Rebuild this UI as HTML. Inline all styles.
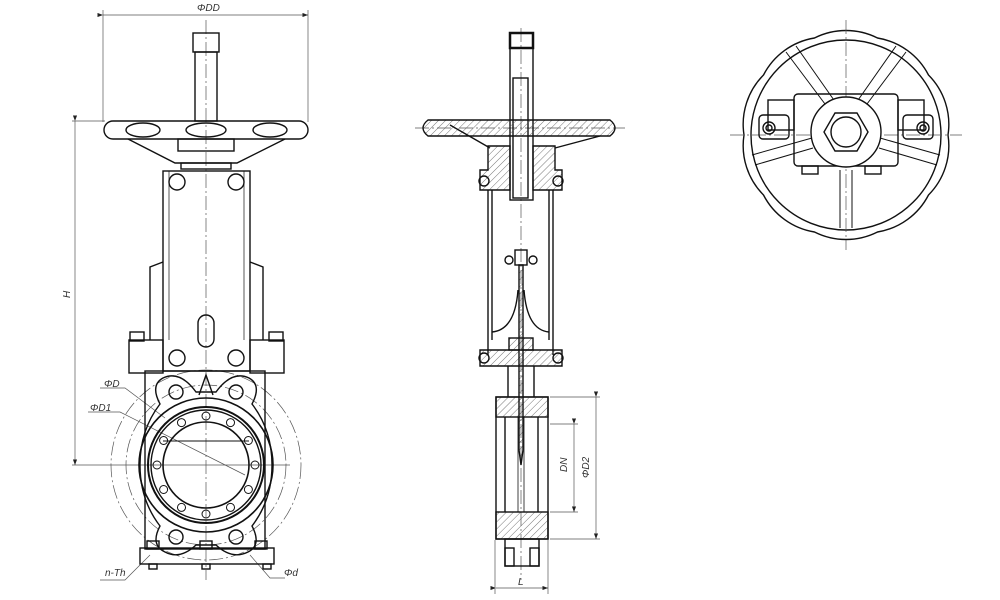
<!DOCTYPE html>
<html><head><meta charset="utf-8"><style>
html,body{margin:0;padding:0;background:#fff;width:1000px;height:600px;overflow:hidden}
svg{display:block}
text{font-family:"Liberation Sans",sans-serif;font-style:italic;font-size:10px;fill:#333}
</style></head><body>
<svg width="1000" height="600" viewBox="0 0 1000 600" xmlns="http://www.w3.org/2000/svg">
<defs>
<pattern id="h" width="5" height="5" patternUnits="userSpaceOnUse" patternTransform="rotate(45)"><line x1="0" y1="0" x2="0" y2="5" stroke="#555" stroke-width="0.8"/></pattern>
<marker id="a" markerWidth="8" markerHeight="6" refX="8" refY="3" orient="auto"><path d="M0,0 L8,3 L0,6z" fill="#222"/></marker>
</defs>
<g fill="none" stroke="#111" stroke-width="1.4">
<!-- ===== LEFT VIEW ===== -->
<g stroke="#555" stroke-width="0.7">
<line x1="103" y1="15" x2="308" y2="15" marker-start="url(#a)" marker-end="url(#a)"/>
<line x1="103" y1="10" x2="103" y2="122"/><line x1="308" y1="10" x2="308" y2="122"/>
<line x1="75" y1="121" x2="75" y2="465" marker-start="url(#a)" marker-end="url(#a)"/>
<line x1="72" y1="121" x2="105" y2="121"/><line x1="72" y1="465" x2="290" y2="465"/>
<line x1="206" y1="20" x2="206" y2="580" stroke-dasharray="14,3,2,3"/>
<circle cx="206" cy="465" r="80" stroke-dasharray="14,3,2,3"/>
<circle cx="206" cy="465" r="95" stroke-dasharray="14,3,2,3"/>
<polyline points="100,388 125,388 165,418"/><polyline points="88,412 120,412 245,475"/>
<polyline points="100,580 125,580 150,555"/><polyline points="285,578 270,578 250,555"/>
</g>
<rect x="193" y="33" width="26" height="19"/>
<rect x="195" y="52" width="22" height="69"/>
<rect x="104" y="121" width="204" height="18" rx="9"/>
<ellipse cx="143" cy="130" rx="17" ry="7"/><ellipse cx="206" cy="130" rx="20" ry="7"/><ellipse cx="270" cy="130" rx="17" ry="7"/>
<path d="M128,139 L175,163 L237,163 L285,139"/>
<rect x="178" y="139" width="56" height="12"/>
<rect x="181" y="163" width="50" height="6"/>
<rect x="163" y="171" width="87" height="200"/>
<line x1="169" y1="171" x2="169" y2="340" stroke-width="0.7"/><line x1="244" y1="171" x2="244" y2="340" stroke-width="0.7"/>
<circle cx="177" cy="182" r="8"/><circle cx="236" cy="182" r="8"/>
<path d="M163,262 L150,267 L150,340 M250,262 L263,267 L263,340"/>
<rect x="198" y="315" width="16" height="32" rx="8"/>
<circle cx="177" cy="358" r="8"/><circle cx="236" cy="358" r="8"/>
<rect x="129" y="340" width="34" height="33"/><rect x="250" y="340" width="34" height="33"/>
<rect x="130" y="332" width="14" height="9"/><rect x="269" y="332" width="14" height="9"/>
<rect x="145" y="371" width="120" height="178"/>
<path d="M163,378 Q150,385 160,404 Q140,430 140,465 Q140,500 160,526 Q150,545 165,552 Q180,560 196,545 L216,545 Q232,560 248,552 Q262,545 252,526 Q272,500 272,465 Q272,430 252,404 Q262,385 249,378 Q232,370 216,392 L196,392 Q180,370 163,378Z"/>
<path d="M199,395 L206,375 L213,395" />
<circle cx="176" cy="392" r="7"/><circle cx="236" cy="392" r="7"/><circle cx="176" cy="537" r="7"/><circle cx="236" cy="537" r="7"/>
<circle cx="206" cy="465" r="67" stroke-width="1.6"/>
<circle cx="206" cy="465" r="58" stroke-width="2"/>
<circle cx="206" cy="465" r="55"/>
<circle cx="206" cy="465" r="43" stroke-width="1.6"/>
<g stroke-width="1">
<circle cx="206" cy="416" r="4"/><circle cx="206" cy="514" r="4"/><circle cx="157" cy="465" r="4"/><circle cx="255" cy="465" r="4"/>
<circle cx="230.5" cy="422.6" r="4"/><circle cx="181.5" cy="422.6" r="4"/><circle cx="230.5" cy="507.4" r="4"/><circle cx="181.5" cy="507.4" r="4"/>
<circle cx="248.4" cy="440.5" r="4"/><circle cx="163.6" cy="440.5" r="4"/><circle cx="248.4" cy="489.5" r="4"/><circle cx="163.6" cy="489.5" r="4"/>
</g>
<line x1="163" y1="441" x2="249" y2="441" stroke-width="1"/>
<rect x="140" y="548" width="134" height="16"/>
<rect x="147" y="541" width="12" height="8"/><rect x="200" y="541" width="12" height="8"/><rect x="255" y="541" width="12" height="8"/>
<rect x="149" y="564" width="8" height="5"/><rect x="202" y="564" width="8" height="5"/><rect x="263" y="564" width="8" height="5"/>

<!-- ===== MIDDLE VIEW ===== -->
<g stroke="#555" stroke-width="0.7">
<line x1="521" y1="28" x2="521" y2="580" stroke-dasharray="14,3,2,3"/>
<line x1="415" y1="128" x2="625" y2="128" stroke-dasharray="14,3,2,3"/>
<line x1="574" y1="424" x2="574" y2="512" marker-start="url(#a)" marker-end="url(#a)"/>
<line x1="550" y1="424" x2="578" y2="424"/><line x1="550" y1="512" x2="578" y2="512"/>
<line x1="596" y1="397" x2="596" y2="539" marker-start="url(#a)" marker-end="url(#a)"/>
<line x1="550" y1="397" x2="600" y2="397"/><line x1="550" y1="539" x2="600" y2="539"/>
<line x1="496" y1="588" x2="548" y2="588" marker-start="url(#a)" marker-end="url(#a)"/>
<line x1="495" y1="540" x2="495" y2="594"/><line x1="548" y1="540" x2="548" y2="594"/>
</g>
<rect x="510" y="33" width="23" height="15" stroke-width="2.5"/>
<rect x="510" y="48" width="23" height="152"/>
<rect x="513" y="78" width="15" height="120"/>
<path d="M428,120 L610,120 Q620,128 610,136 L428,136 Q418,128 428,120Z" fill="url(#h)"/>
<path d="M450,125 L490,148 M555,148 L600,136" />
<path d="M488,146 L510,146 L510,190 L480,190 L480,170 L488,170Z" fill="url(#h)"/>
<path d="M533,146 L555,146 L555,170 L562,170 L562,190 L533,190Z" fill="url(#h)"/>
<circle cx="484" cy="181" r="5"/><circle cx="558" cy="181" r="5"/>
<line x1="488" y1="190" x2="488" y2="355"/><line x1="492" y1="190" x2="492" y2="340"/>
<line x1="553" y1="190" x2="553" y2="355"/><line x1="549" y1="190" x2="549" y2="340"/>
<path d="M492,332 Q515,330 518,290 M549,332 Q527,330 524,290"/>
<rect x="515" y="250" width="12" height="15"/><circle cx="509" cy="260" r="4"/><circle cx="533" cy="260" r="4"/>
<path d="M480,350 L562,350 L562,366 L480,366Z" fill="url(#h)"/>
<circle cx="484" cy="358" r="5"/><circle cx="558" cy="358" r="5"/>
<rect x="509" y="338" width="24" height="12" fill="url(#h)"/>
<path d="M508,366 L508,397 M534,366 L534,397"/>
<rect x="496" y="397" width="52" height="142"/>
<rect x="496" y="397" width="52" height="20" fill="url(#h)"/>
<rect x="496" y="512" width="52" height="27" fill="url(#h)"/>
<line x1="505" y1="417" x2="505" y2="512"/><line x1="538" y1="417" x2="538" y2="512"/>
<line x1="518" y1="417" x2="518" y2="512" stroke-width="0.8"/><line x1="524" y1="417" x2="524" y2="512" stroke-width="0.8"/>
<path d="M519,265 L523,265 L523,450 L521,465 L519,450Z" fill="url(#h)"/>
<rect x="505" y="539" width="34" height="27"/>
<rect x="505" y="548" width="9" height="18"/><rect x="530" y="548" width="9" height="18"/>

<!-- ===== RIGHT VIEW ===== -->
<path d="M948,135 A70,70 0 0 1 928.5,195 A70,70 0 0 1 877.5,232 A70,70 0 0 1 814.5,232 A70,70 0 0 1 763.5,195 A70,70 0 0 1 744,135 A70,70 0 0 1 763.5,75 A70,70 0 0 1 814.5,38 A70,70 0 0 1 877.5,38 A70,70 0 0 1 928.5,75 A70,70 0 0 1 948,135Z"/>
<circle cx="846" cy="135" r="95"/>
<g stroke="#555" stroke-width="0.7"><line x1="730" y1="135" x2="962" y2="135" stroke-dasharray="14,3,2,3"/><line x1="846" y1="20" x2="846" y2="250" stroke-dasharray="14,3,2,3"/></g>
<rect x="794" y="94" width="104" height="72" rx="4"/>
<rect x="768" y="100" width="26" height="30"/><rect x="898" y="100" width="26" height="30"/>
<rect x="759" y="115" width="30" height="24" rx="4"/><rect x="903" y="115" width="30" height="24" rx="4"/>
<circle cx="769" cy="128" r="6"/><circle cx="769" cy="128" r="3"/><circle cx="923" cy="128" r="6"/><circle cx="923" cy="128" r="3"/>
<rect x="802" y="166" width="16" height="8"/><rect x="865" y="166" width="16" height="8"/>
<g stroke-width="1">
<path d="M786,52 L828,108 M796,46 L836,103"/>
<path d="M906,52 L864,108 M896,46 L856,103"/>
<path d="M752,155 L812,138 M755,165 L813,148"/>
<path d="M940,155 L880,138 M937,165 L879,148"/>
<path d="M840,170 L840,228 M852,170 L852,228"/>
</g>
<circle cx="846" cy="132" r="35" fill="#fff"/>
<polygon points="824,132 835,113 857,113 868,132 857,151 835,151"/>
<circle cx="846" cy="132" r="15"/>
</g>
<text x="197" y="11">ΦDD</text>
<text x="70" y="298" transform="rotate(-90 70 298)">H</text>
<text x="104" y="387">ΦD</text>
<text x="90" y="411">ΦD1</text>
<text x="105" y="576">n-Th</text>
<text x="284" y="576">Φd</text>
<text x="567" y="472" transform="rotate(-90 567 472)">DN</text>
<text x="589" y="478" transform="rotate(-90 589 478)">ΦD2</text>
<text x="518" y="585">L</text>
</svg>
</body></html>
